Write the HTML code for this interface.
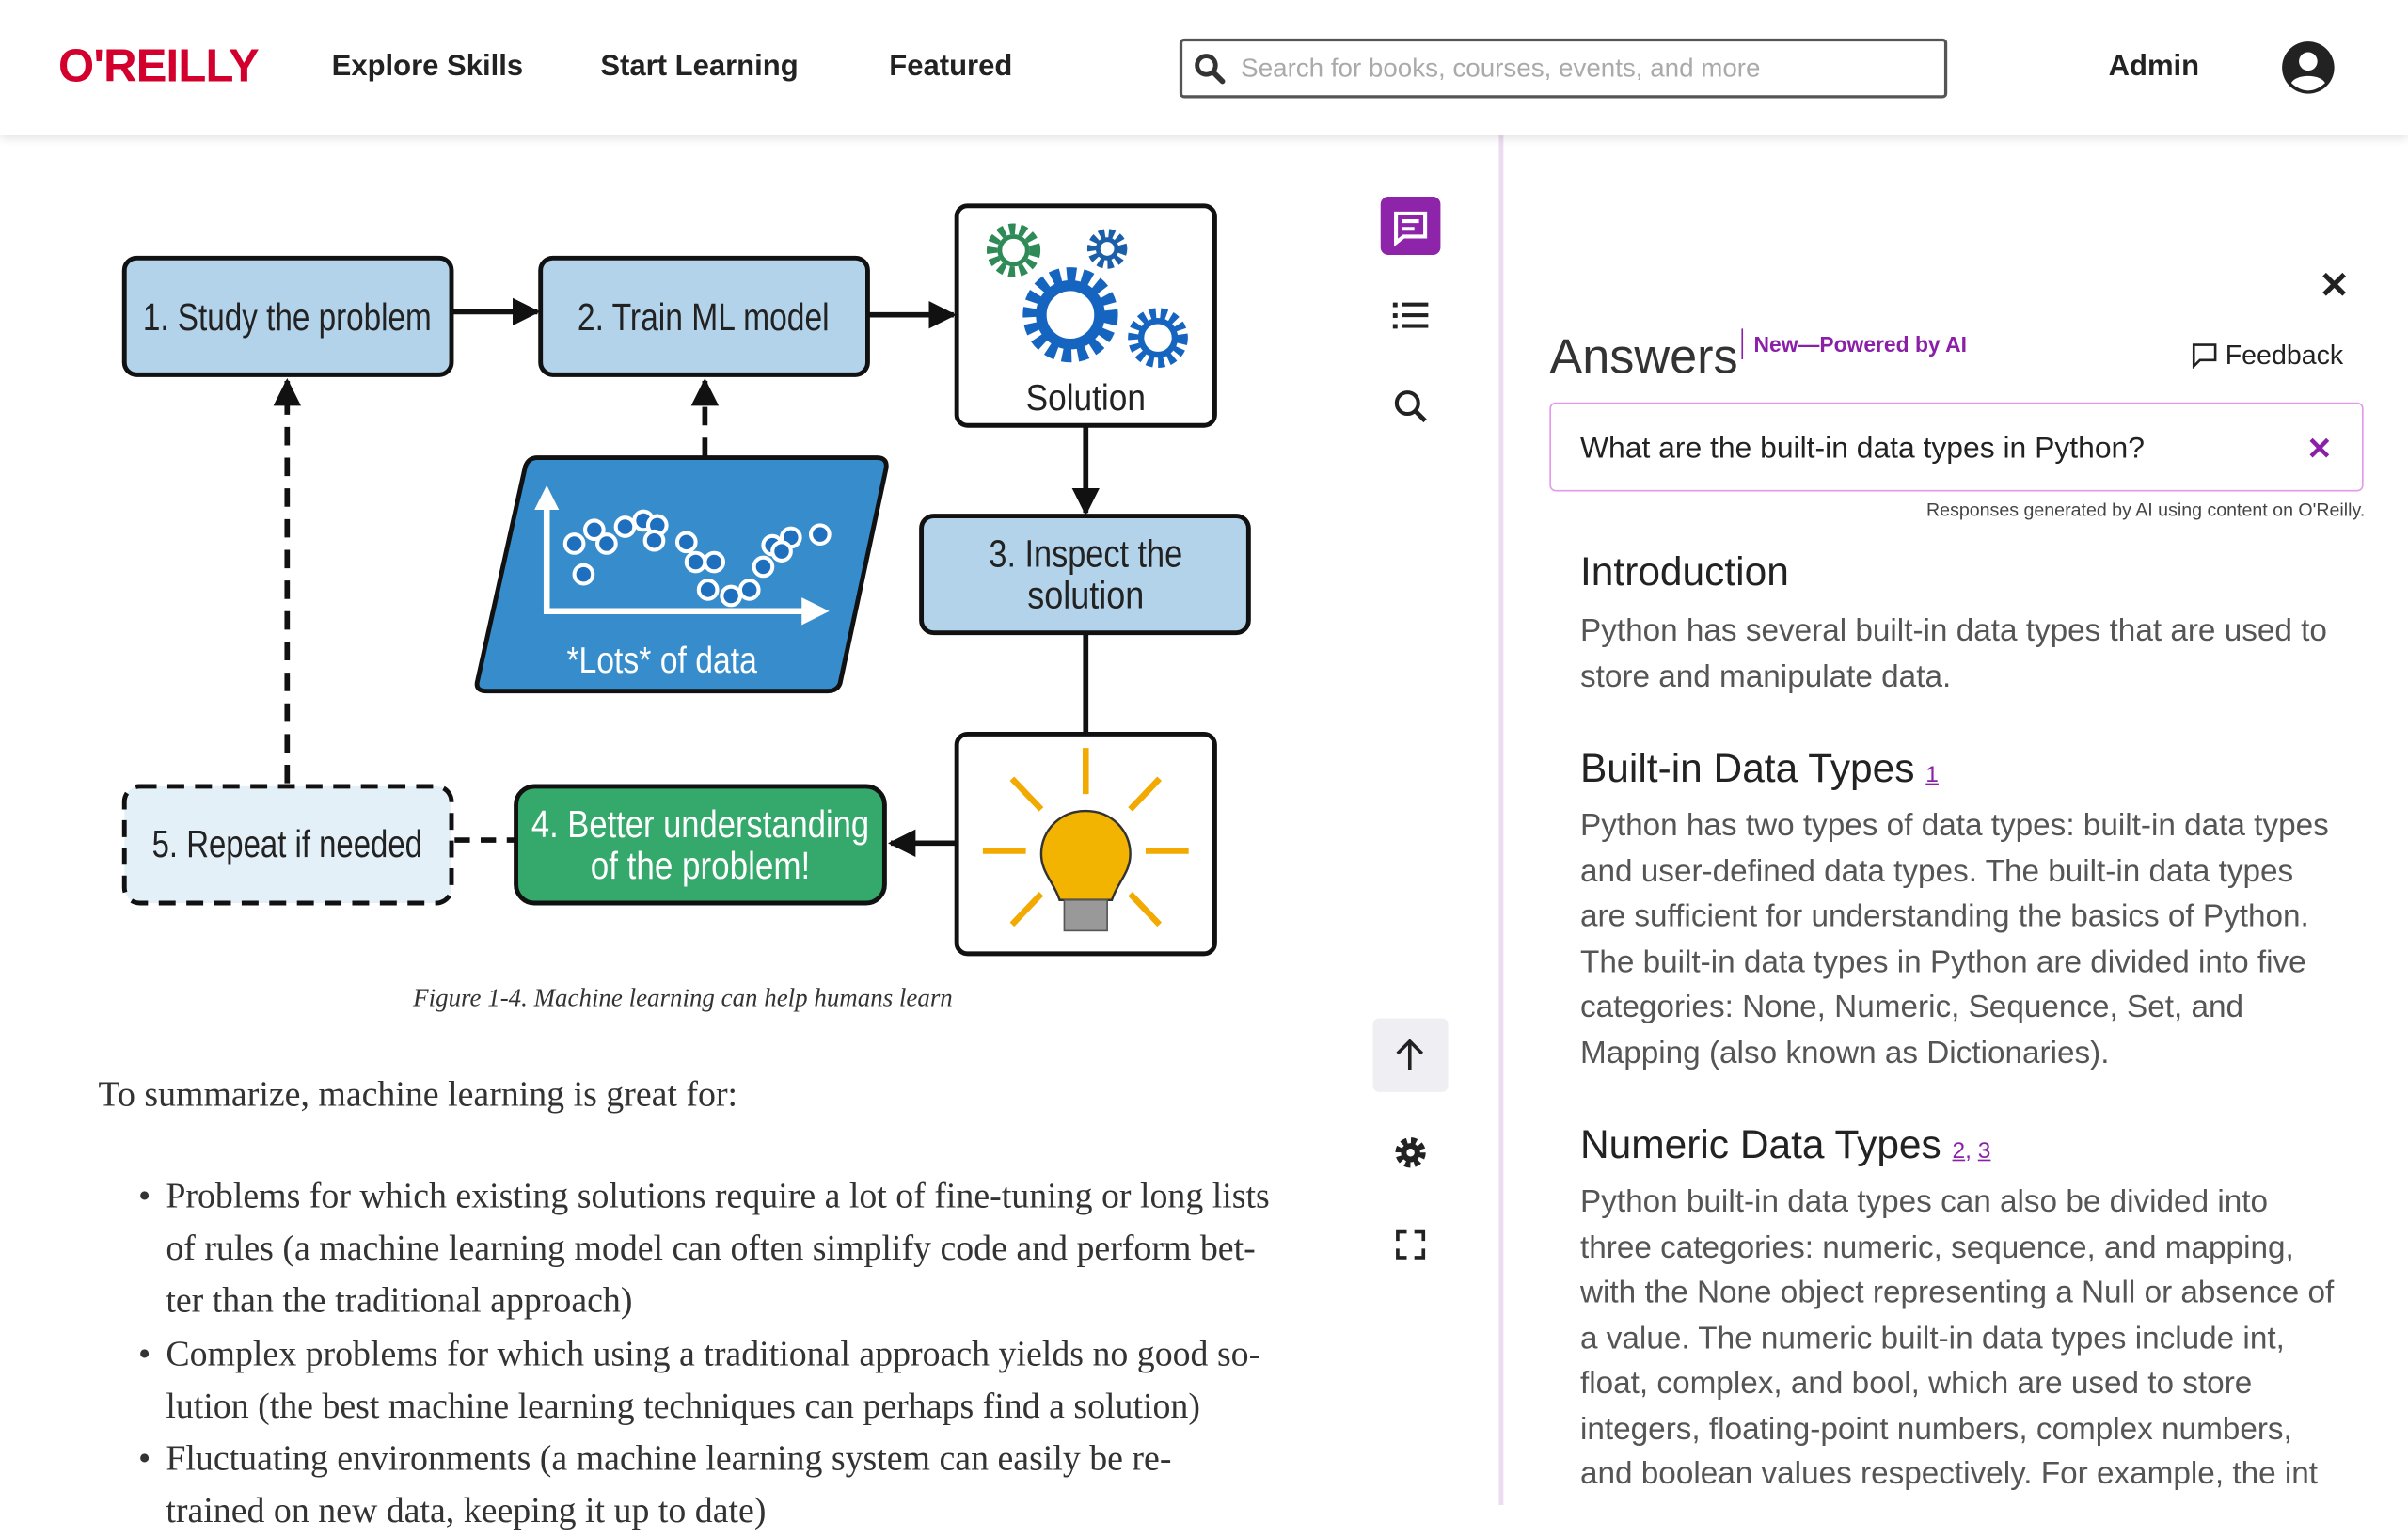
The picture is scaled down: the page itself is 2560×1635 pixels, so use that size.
<!DOCTYPE html>
<html><head><meta charset="utf-8"><style>
html,body{margin:0;padding:0;width:2560px;height:1600px;overflow:hidden;background:#fff}
#w{position:absolute;left:0;top:0;width:1568px;height:980px;transform:scale(1.63265);transform-origin:0 0;font-family:"Liberation Sans",sans-serif;color:#222}
.a{position:absolute;white-space:nowrap}
.hdr{position:absolute;left:0;top:0;width:1568px;height:88px;background:#fff;box-shadow:0 2px 6px rgba(0,0,0,.12);z-index:2}
.nav{font-size:19px;font-weight:bold;color:#222;top:33px}
.ser{font-family:"Liberation Serif",serif;color:#333;font-size:23.2px}
.rt{font-size:20.4px;color:#555;line-height:29.5px}
.h{font-size:26px;color:#222}
.lk{color:#8a1fa8;font-size:15px;text-decoration:underline}
.bl{position:relative;padding-left:18px}
.bl span.d{position:absolute;left:0}
</style></head><body><div id="w">
<div class="hdr">
 <div class="a" style="left:38px;top:27px;font-size:30px;font-weight:bold;color:#d3002d;letter-spacing:-0.5px">O'REILLY</div>
 <div class="a nav" style="left:216px">Explore Skills</div>
 <div class="a nav" style="left:391px">Start Learning</div>
 <div class="a nav" style="left:579px">Featured</div>
 <div class="a" style="left:768px;top:25px;width:496px;height:35px;border:2px solid #555;border-radius:3px"></div>
 <svg class="a" style="left:777px;top:34px" width="22" height="22" viewBox="0 0 22 22"><circle cx="8.5" cy="8.5" r="6" fill="none" stroke="#333" stroke-width="3"/><line x1="13" y1="13" x2="19" y2="19" stroke="#333" stroke-width="3.5" stroke-linecap="round"/></svg>
 <div class="a" style="left:808px;top:35px;font-size:17px;color:#aaa">Search for books, courses, events, and more</div>
 <div class="a nav" style="left:1373px">Admin</div>
 <svg class="a" style="left:1485px;top:26px" width="36" height="36" viewBox="0 0 36 36"><circle cx="18" cy="18" r="17" fill="#222"/><circle cx="18" cy="14" r="6" fill="#fff"/><path d="M7 28c3-6 19-6 22 0c-3 3-7 5-11 5s-8-2-11-5z" fill="#fff"/></svg>
</div>

<svg class="a" style="left:0;top:0" width="900" height="640" viewBox="0 0 900 640" font-family="Liberation Sans,sans-serif">
<defs>
<marker id="ab" viewBox="0 0 10 10" markerWidth="18" markerHeight="18" refX="9" refY="5" orient="auto" markerUnits="userSpaceOnUse"><path d="M0,0 L10,5 L0,10z" fill="#111"/></marker></defs>
<g stroke="#111" stroke-width="3.5" fill="none">
<line x1="295" y1="203" x2="350" y2="203" marker-end="url(#ab)"/>
<line x1="566" y1="205" x2="621" y2="205" marker-end="url(#ab)"/>
<line x1="707" y1="278" x2="707" y2="334" marker-end="url(#ab)"/>
<line x1="707" y1="412" x2="707" y2="478"/>
<line x1="623" y1="549" x2="580" y2="549" marker-end="url(#ab)"/>
<line x1="296" y1="547" x2="337" y2="547" stroke-dasharray="10,7"/>
<line x1="187" y1="510" x2="187" y2="248" stroke-dasharray="12,8" marker-end="url(#ab)"/>
<line x1="459" y1="297" x2="459" y2="248" stroke-dasharray="12,8" marker-end="url(#ab)"/>
</g>
<rect x="81" y="168" width="213" height="76" rx="8" fill="#b3d3ea" stroke="#111" stroke-width="3"/>
<text x="187" y="215" font-size="25" text-anchor="middle" fill="#222" textLength="188" lengthAdjust="spacingAndGlyphs">1. Study the problem</text>
<rect x="352" y="168" width="213" height="76" rx="8" fill="#b3d3ea" stroke="#111" stroke-width="3"/>
<text x="458" y="215" font-size="25" text-anchor="middle" fill="#222" textLength="164" lengthAdjust="spacingAndGlyphs">2. Train ML model</text>
<rect x="623" y="134" width="168" height="143" rx="7" fill="#fff" stroke="#111" stroke-width="3"/>
<g fill="none">
<circle cx="660" cy="163" r="14" stroke="#2e8b57" stroke-width="7" stroke-dasharray="4,3"/><circle cx="660" cy="163" r="9" stroke="#2e8b57" stroke-width="3"/>
<circle cx="721" cy="162" r="10" stroke="#1a5fa8" stroke-width="6" stroke-dasharray="3.5,2.5"/><circle cx="721" cy="162" r="6" stroke="#1a5fa8" stroke-width="3"/>
<circle cx="697" cy="205" r="26" stroke="#1565c0" stroke-width="10" stroke-dasharray="6,4"/><circle cx="697" cy="205" r="19" stroke="#1565c0" stroke-width="7"/>
<circle cx="754" cy="220" r="16" stroke="#1565c0" stroke-width="7" stroke-dasharray="4,3"/><circle cx="754" cy="220" r="11" stroke="#1565c0" stroke-width="4"/>
</g>
<text x="707" y="267" font-size="24" text-anchor="middle" fill="#222" textLength="78" lengthAdjust="spacingAndGlyphs">Solution</text>
<rect x="600" y="336" width="213" height="76" rx="8" fill="#b3d3ea" stroke="#111" stroke-width="3"/>
<text x="707" y="369" font-size="25" text-anchor="middle" fill="#222" textLength="126" lengthAdjust="spacingAndGlyphs">3. Inspect the</text>
<text x="707" y="396" font-size="25" text-anchor="middle" fill="#222" textLength="76" lengthAdjust="spacingAndGlyphs">solution</text>
<rect x="623" y="478" width="168" height="143" rx="7" fill="#fff" stroke="#111" stroke-width="3"/>
<g stroke="#f2a900" stroke-width="4">
<line x1="707" y1="487" x2="707" y2="517"/><line x1="640" y1="554" x2="668" y2="554"/><line x1="746" y1="554" x2="774" y2="554"/>
<line x1="659" y1="507" x2="678" y2="527"/><line x1="755" y1="507" x2="736" y2="527"/><line x1="659" y1="602" x2="678" y2="582"/><line x1="755" y1="602" x2="736" y2="582"/>
</g>
<path d="M707 528c-17 0-29 13-29 28c0 12 8 18 12 30h34c4-12 12-18 12-30c0-15-12-28-29-28z" fill="#f2b400" stroke="#333" stroke-width="1.5"/>
<rect x="693" y="586" width="28" height="20" fill="#999" stroke="#555"/>
<rect x="336" y="512" width="240" height="76" rx="12" fill="#35a86b" stroke="#111" stroke-width="3"/>
<text x="456" y="545" font-size="25" text-anchor="middle" fill="#fff" textLength="220" lengthAdjust="spacingAndGlyphs">4. Better understanding</text>
<text x="456" y="572" font-size="25" text-anchor="middle" fill="#fff" textLength="143" lengthAdjust="spacingAndGlyphs">of the problem!</text>
<rect x="81" y="512" width="213" height="76" rx="10" fill="#e4f0f8" stroke="#111" stroke-width="3" stroke-dasharray="11,7"/>
<text x="187" y="558" font-size="25" text-anchor="middle" fill="#222" textLength="176" lengthAdjust="spacingAndGlyphs">5. Repeat if needed</text>
<path d="M350 298 L571 298 Q578 298 577 305 L547 445 Q545 450 539 450 L317 450 Q309 450 311 443 L342 304 Q344 298 350 298z" fill="#378dcc" stroke="#111" stroke-width="3"/>
<g stroke="#fff" stroke-width="4" fill="none"><polyline points="356,328 356,398 525,398"/></g>
<path d="M348 332 L356 316 L364 332z M522 389 L540 398 L522 407z" fill="#fff"/>
<g fill="#1f6fbf" stroke="#fff" stroke-width="2.5">
<circle cx="374" cy="354" r="6"/><circle cx="380" cy="374" r="6"/><circle cx="387" cy="345" r="6"/><circle cx="395" cy="354" r="6"/><circle cx="407" cy="343" r="6"/><circle cx="419" cy="339" r="6"/><circle cx="428" cy="342" r="6"/><circle cx="426" cy="352" r="6"/><circle cx="447" cy="353" r="6"/><circle cx="453" cy="366" r="6"/><circle cx="465" cy="366" r="6"/><circle cx="461" cy="384" r="6"/><circle cx="476" cy="388" r="6"/><circle cx="488" cy="384" r="6"/><circle cx="497" cy="369" r="6"/><circle cx="503" cy="355" r="6"/><circle cx="515" cy="350" r="6"/><circle cx="509" cy="359" r="6"/><circle cx="534" cy="348" r="6"/>
</g>
<text x="431" y="438" font-size="24" text-anchor="middle" fill="#fff" textLength="124" lengthAdjust="spacingAndGlyphs">*Lots* of data</text>
</svg>

<div class="a ser" style="left:269px;top:640px;font-size:16.5px;font-style:italic;color:#333">Figure 1-4. Machine learning can help humans learn</div>
<div class="a ser" style="left:64px;top:700px">To summarize, machine learning is great for:</div>
<div class="a ser" style="left:90px;top:762px;line-height:34.2px">
<div class="bl"><span class="d">•</span>Problems for which existing solutions require a lot of fine-tuning or long lists<br>of rules (a machine learning model can often simplify code and perform bet-<br>ter than the traditional approach)</div>
<div class="bl"><span class="d">•</span>Complex problems for which using a traditional approach yields no good so-<br>lution (the best machine learning techniques can perhaps find a solution)</div>
<div class="bl"><span class="d">•</span>Fluctuating environments (a machine learning system can easily be re-<br>trained on new data, keeping it up to date)</div>
</div>

<div class="a" style="left:899px;top:128px;width:39px;height:38px;border-radius:5px;background:#8e24aa"></div>
<svg class="a" style="left:899px;top:128px" width="39" height="38" viewBox="0 0 39 38"><path d="M10 11h19v15h-14l-5 4z" fill="none" stroke="#fff" stroke-width="2.5"/><line x1="14" y1="16" x2="25" y2="16" stroke="#fff" stroke-width="2.5"/><line x1="14" y1="21" x2="22" y2="21" stroke="#fff" stroke-width="2.5"/></svg>
<svg class="a" style="left:906px;top:195px" width="26" height="22"><g fill="#222"><rect x="1" y="2" width="3" height="3"/><rect x="1" y="9" width="3" height="3"/><rect x="1" y="16" width="3" height="3"/><rect x="7" y="2" width="17" height="2.5"/><rect x="7" y="9" width="17" height="2.5"/><rect x="7" y="16" width="17" height="2.5"/></g></svg>
<svg class="a" style="left:907px;top:253px" width="24" height="24"><circle cx="9.5" cy="9.5" r="7" fill="none" stroke="#222" stroke-width="2.5"/><line x1="14.5" y1="14.5" x2="21" y2="21" stroke="#222" stroke-width="3"/></svg>
<div class="a" style="left:894px;top:663px;width:49px;height:48px;border-radius:4px;background:#efeff3"></div>
<svg class="a" style="left:906px;top:675px" width="24" height="24"><line x1="12" y1="3" x2="12" y2="22" stroke="#222" stroke-width="2.2"/><polyline points="4,11 12,3 20,11" fill="none" stroke="#222" stroke-width="2.2"/></svg>
<svg class="a" style="left:906px;top:738px" width="25" height="25" viewBox="0 0 24 24"><circle cx="12" cy="12" r="7" fill="none" stroke="#222" stroke-width="5" stroke-dasharray="3.2,2.3"/><circle cx="12" cy="12" r="6" fill="#222"/><circle cx="12" cy="12" r="2.5" fill="#fff"/></svg>
<svg class="a" style="left:909px;top:801px" width="19" height="19"><g fill="none" stroke="#222" stroke-width="2.5"><polyline points="1,7 1,1 7,1"/><polyline points="12,1 18,1 18,7"/><polyline points="1,12 1,18 7,18"/><polyline points="12,18 18,18 18,12"/></g></svg>

<div class="a" style="left:976px;top:88px;width:3px;height:892px;background:#ecdcf0"></div>

<div class="a" style="left:1510px;top:172px;font-size:24px;font-weight:bold;color:#222">✕</div>
<div class="a" style="left:1009px;top:214px;font-size:32px;color:#333">Answers</div>
<div class="a" style="left:1134px;top:214px;width:1px;height:20px;background:#8a1fa8"></div>
<div class="a" style="left:1142px;top:216px;font-size:14px;font-weight:bold;color:#8a1fa8">New—Powered by AI</div>
<svg class="a" style="left:1427px;top:223px" width="17" height="17"><path d="M1.5 1.5h14v10h-10l-4 4z" fill="none" stroke="#222" stroke-width="1.6"/></svg>
<div class="a" style="left:1449px;top:221px;font-size:17.5px;color:#222">Feedback</div>
<div class="a" style="left:1009px;top:262px;width:528px;height:56px;border:1.5px solid #e29ae9;border-radius:4px"></div>
<div class="a" style="left:1029px;top:281px;font-size:19.5px;color:#222">What are the built-in data types in Python?</div>
<div class="a" style="left:1502px;top:280px;font-size:20px;font-weight:bold;color:#8a1fa8">✕</div>
<div class="a" style="left:1200px;top:325px;width:340px;text-align:right;font-size:12px;color:#444">Responses generated by AI using content on O'Reilly.</div>
<div class="a h" style="left:1029px;top:357px">Introduction</div>
<div class="a rt" style="left:1029px;top:397px">Python has several built-in data types that are used to<br>store and manipulate data.</div>
<div class="a h" style="left:1029px;top:485px">Built-in Data Types <span class="lk">1</span></div>
<div class="a rt" style="left:1029px;top:524px">Python has two types of data types: built-in data types<br>and user-defined data types. The built-in data types<br>are sufficient for understanding the basics of Python.<br>The built-in data types in Python are divided into five<br>categories: None, Numeric, Sequence, Set, and<br>Mapping (also known as Dictionaries).</div>
<div class="a h" style="left:1029px;top:730px">Numeric Data Types <span class="lk">2</span><span class="lk" style="text-decoration:none">, </span><span class="lk">3</span></div>
<div class="a rt" style="left:1029px;top:769px">Python built-in data types can also be divided into<br>three categories: numeric, sequence, and mapping,<br>with the None object representing a Null or absence of<br>a value. The numeric built-in data types include int,<br>float, complex, and bool, which are used to store<br>integers, floating-point numbers, complex numbers,<br>and boolean values respectively. For example, the int</div>
</div></body></html>
